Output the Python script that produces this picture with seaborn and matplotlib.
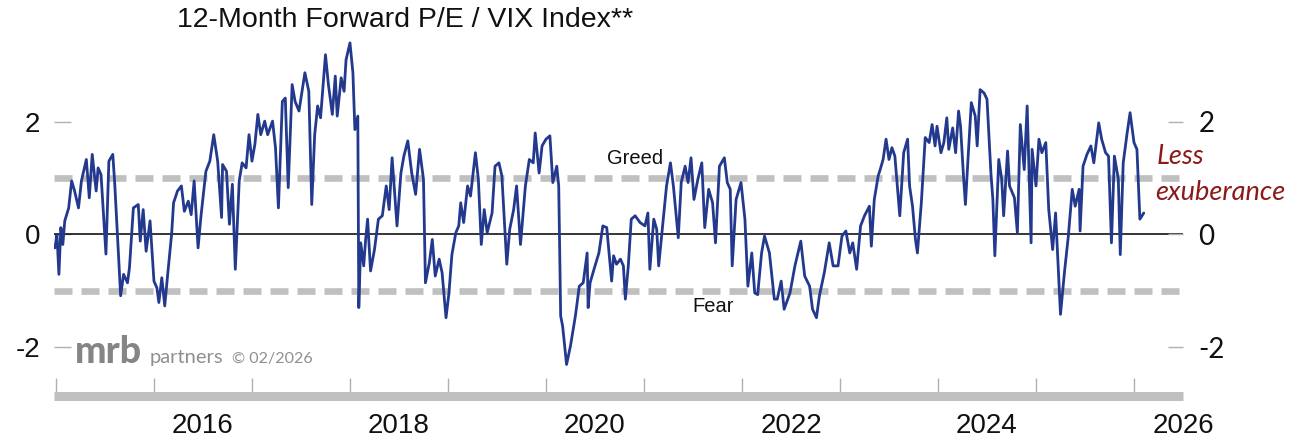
import matplotlib
matplotlib.use("Agg")
import matplotlib.pyplot as plt
import seaborn as sns
import pandas as pd

title = "12-Month Forward P/E / VIX Index**"

dates = [
    2014.99, 2015.01, 2015.03, 2015.05, 2015.07, 2015.09, 2015.13, 2015.16, 2015.19, 2015.23,
    2015.26, 2015.31, 2015.34, 2015.37, 2015.41, 2015.43, 2015.46, 2015.51, 2015.54, 2015.58,
    2015.60, 2015.66, 2015.69, 2015.73, 2015.75, 2015.79, 2015.84, 2015.86, 2015.89, 2015.92,
    2015.96, 2016.00, 2016.03, 2016.05, 2016.08, 2016.11, 2016.14, 2016.18, 2016.20, 2016.24,
    2016.28, 2016.31, 2016.35, 2016.38, 2016.41, 2016.45, 2016.48, 2016.53, 2016.57, 2016.61,
    2016.65, 2016.69, 2016.70, 2016.74, 2016.77, 2016.80, 2016.83, 2016.87, 2016.90, 2016.94,
    2016.97, 2017.00, 2017.03, 2017.06, 2017.09, 2017.13, 2017.16, 2017.21, 2017.24, 2017.27,
    2017.31, 2017.34, 2017.37, 2017.41, 2017.44, 2017.48, 2017.54, 2017.58, 2017.61, 2017.64,
    2017.67, 2017.70, 2017.75, 2017.78, 2017.82, 2017.85, 2017.87, 2017.91, 2017.94, 2017.96,
    2018.00, 2018.03, 2018.05, 2018.08, 2018.09, 2018.11, 2018.14, 2018.16, 2018.18, 2018.21,
    2018.25, 2018.29, 2018.33, 2018.37, 2018.40, 2018.43, 2018.48, 2018.52, 2018.55, 2018.59,
    2018.63, 2018.67, 2018.71, 2018.75, 2018.77, 2018.81, 2018.84, 2018.87, 2018.91, 2018.94,
    2018.98, 2019.01, 2019.04, 2019.08, 2019.11, 2019.13, 2019.16, 2019.20, 2019.23, 2019.28,
    2019.31, 2019.34, 2019.37, 2019.40, 2019.45, 2019.48, 2019.52, 2019.55, 2019.60, 2019.63,
    2019.67, 2019.70, 2019.74, 2019.79, 2019.83, 2019.87, 2019.89, 2019.93, 2019.96, 2020.00,
    2020.04, 2020.07, 2020.11, 2020.13, 2020.15, 2020.17, 2020.21, 2020.25, 2020.30, 2020.34,
    2020.38, 2020.42, 2020.43, 2020.45, 2020.49, 2020.54, 2020.58, 2020.62, 2020.67, 2020.69,
    2020.72, 2020.76, 2020.79, 2020.81, 2020.84, 2020.87, 2020.91, 2020.96, 2021.01, 2021.04,
    2021.06, 2021.10, 2021.13, 2021.15, 2021.19, 2021.23, 2021.27, 2021.30, 2021.35, 2021.38,
    2021.42, 2021.45, 2021.48, 2021.51, 2021.55, 2021.59, 2021.62, 2021.66, 2021.70, 2021.73,
    2021.77, 2021.82, 2021.85, 2021.88, 2021.90, 2021.94, 2021.99, 2022.03, 2022.06, 2022.10,
    2022.13, 2022.16, 2022.20, 2022.23, 2022.28, 2022.33, 2022.36, 2022.40, 2022.43, 2022.49,
    2022.54, 2022.60, 2022.64, 2022.69, 2022.72, 2022.76, 2022.79, 2022.84, 2022.89, 2022.93,
    2022.98, 2023.02, 2023.06, 2023.10, 2023.13, 2023.17, 2023.21, 2023.25, 2023.30, 2023.32,
    2023.35, 2023.39, 2023.41, 2023.44, 2023.47, 2023.50, 2023.53, 2023.56, 2023.61, 2023.65,
    2023.69, 2023.71, 2023.74, 2023.77, 2023.79, 2023.83, 2023.87, 2023.91, 2023.94, 2023.97,
    2023.99, 2024.03, 2024.06, 2024.09, 2024.11, 2024.15, 2024.18, 2024.21, 2024.23, 2024.26,
    2024.28, 2024.30, 2024.34, 2024.38, 2024.40, 2024.43, 2024.47, 2024.50, 2024.54, 2024.56,
    2024.58, 2024.62, 2024.65, 2024.67, 2024.71, 2024.73, 2024.78, 2024.81, 2024.84, 2024.88,
    2024.91, 2024.95, 2024.96, 2025.00, 2025.03, 2025.06, 2025.10, 2025.13, 2025.17, 2025.20,
    2025.25, 2025.29, 2025.33, 2025.37, 2025.40, 2025.44, 2025.45, 2025.48, 2025.52, 2025.56,
    2025.59, 2025.64, 2025.67, 2025.71, 2025.74, 2025.77, 2025.80, 2025.84, 2025.86, 2025.89,
    2025.93, 2025.96, 2026.00, 2026.03, 2026.06, 2026.10,
]

values = [
    -0.24, 0.00, -0.71, 0.12, -0.18, 0.24, 0.47, 0.95, 0.77, 0.47,
    0.95, 1.33, 0.65, 1.42, 0.77, 1.18, 1.06, -0.35, 1.30, 1.42,
    0.89, -1.09, -0.71, -0.86, -0.59, 0.47, 0.53, -0.12, 0.44, -0.30,
    0.24, -0.83, -0.95, -1.21, -0.77, -1.27, -0.71, 0.00, 0.56, 0.77,
    0.86, 0.41, 0.59, 0.35, 0.95, -0.24, 0.33, 1.12, 1.30, 1.77,
    1.30, 0.30, 1.24, 1.12, 0.18, 0.89, -0.62, 0.95, 1.27, 1.18,
    1.77, 1.30, 1.60, 2.13, 1.77, 2.01, 1.77, 2.01, 1.54, 0.47,
    2.36, 2.42, 0.83, 2.66, 2.36, 2.19, 2.87, 2.54, 0.53, 1.77,
    2.28, 2.07, 3.19, 2.66, 2.13, 2.81, 2.10, 2.78, 2.54, 3.10,
    3.40, 2.87, 1.86, 2.10, -1.30, -0.15, -0.56, -0.09, 0.27, -0.65,
    -0.27, 0.27, 0.33, 0.86, 0.44, 1.36, 0.15, 1.09, 1.39, 1.66,
    1.09, 0.71, 1.51, 0.98, -0.86, -0.50, -0.09, -0.74, -0.44, -0.68,
    -1.48, -1.04, -0.36, 0.03, 0.15, 0.56, 0.21, 0.86, 0.68, 1.45,
    0.98, -0.18, 0.44, 0.03, 0.38, 1.21, 1.27, 1.04, -0.53, 0.09,
    0.44, 0.86, -0.18, 0.86, 1.33, 1.27, 1.80, 1.09, 1.57, 1.69,
    1.75, 0.92, 1.21, 0.86, -1.45, -1.63, -2.31, -1.98, -1.45, -0.92,
    -0.86, -0.33, -1.30, -0.86, -0.62, -0.33, 0.15, 0.12, -0.83, -0.38,
    -0.53, -0.44, -0.56, -1.15, -0.56, 0.27, 0.33, 0.21, 0.15, 0.38,
    -0.62, 0.27, 0.09, -0.56, 0.15, 0.86, 1.27, 0.86, -0.06, 0.92,
    1.21, 0.92, 1.36, 0.62, 0.98, 1.27, 0.12, 0.80, 0.56, -0.15,
    1.21, 1.36, 0.92, 0.80, -0.56, 0.62, 0.92, 0.27, -0.92, -0.33,
    -1.04, -1.07, -0.33, -0.03, -0.33, -1.15, -1.15, -0.83, -1.33, -1.04,
    -0.56, -0.12, -0.74, -0.92, -1.33, -1.48, -1.09, -0.68, -0.15, -0.56,
    -0.56, -0.03, 0.06, -0.33, -0.15, -0.62, 0.15, 0.33, 0.50, -0.21,
    0.62, 1.04, 1.15, 1.33, 1.69, 1.33, 1.54, 1.39, 0.33, 1.45,
    1.69, 0.86, 0.50, -0.09, -0.33, 0.56, 1.72, 1.63, 1.95, 1.57,
    1.92, 1.45, 1.63, 2.07, 1.51, 1.89, 1.45, 2.19, 1.92, 1.04,
    0.53, 1.15, 2.34, 2.10, 1.57, 2.57, 2.51, 2.40, 1.09, 0.62,
    -0.38, 1.33, 0.98, 0.33, 1.48, 0.86, 0.65, 0.03, 1.95, 1.15,
    2.28, -0.15, 1.51, 0.86, 1.69, 1.45, 1.63, 0.44, -0.27, 0.38,
    -1.42, -0.68, -0.03, 0.80, 0.50, 0.80, 0.06, 1.21, 1.42, 1.57,
    1.27, 1.98, 1.69, 1.45, 1.39, -0.15, 1.39, 0.98, -0.36, 1.27,
    1.80, 2.16, 1.63, 1.51, 0.27, 0.38,
]

ytick_values = [-2, 0, 2]
year_ticks = list(range(2015, 2027))
year_labels = [2016, 2018, 2020, 2022, 2024, 2026]
greed_level = 1
fear_level = -1
greed_text = "Greed"
fear_text = "Fear"
note_lines = ["Less", "exuberance"]

sns.set_theme(style="white")
plt.rcParams['font.family'] = ['Liberation Sans', 'DejaVu Sans']

W, H = 1303, 445
fig = plt.figure(figsize=(W / 100, H / 100), dpi=100)
ax = fig.add_axes([54 / W, 1 - 396 / H, (1183 - 54) / W, (396 - 35) / H])

df = pd.DataFrame({"date": dates, "value": values})

for lvl in (greed_level, fear_level):
    ax.axhline(lvl, color="#c0c0c0", lw=4.8, dashes=(2.7, 1.35),
               dash_capstyle="butt", zorder=1)
ax.axhline(0, color="black", lw=1.1, zorder=2)

sns.lineplot(data=df, x="date", y="value", ax=ax, color="#22398e",
             lw=2.0, zorder=3)

ax.set_xlim(2014.98, 2026.468)
ax.set_ylim(-2.87, 3.54)
ax.set_xlabel("")
ax.set_ylabel("")

for s in ("left", "right", "top"):
    ax.spines[s].set_visible(False)
ax.spines["bottom"].set_color("#c0c0c0")
ax.spines["bottom"].set_linewidth(6.5)
ax.spines["bottom"].set_capstyle("butt")
ax.spines["bottom"].set_zorder(4)

ax.set_xticks(year_ticks)
ax.set_xticklabels([])
ax.set_xticks([y + 0.5 for y in year_labels], minor=True)
ax.set_xticklabels([str(y) for y in year_labels], minor=True)
ax.tick_params(axis="x", which="major", direction="in", length=13, width=1,
               color="#b0b0b0", bottom=True)
ax.tick_params(axis="x", which="minor", length=0, pad=12, labelsize=20,
               labelcolor="#111111", bottom=True)

ax.set_yticks(ytick_values)
ax.set_yticklabels([str(v) for v in ytick_values])
ax.tick_params(axis="y", direction="in", length=12, width=1, color="#b0b0b0",
               left=True, pad=10, labelsize=20, labelcolor="#111111")

ax2 = ax.twinx()
ax2.set_ylim(ax.get_ylim())
for s in ("left", "right", "top", "bottom"):
    ax2.spines[s].set_visible(False)
ax2.set_yticks(ytick_values)
ax2.set_yticklabels([str(v) for v in ytick_values])
ax2.tick_params(axis="y", direction="in", length=11, width=1, color="#b0b0b0",
                right=True, pad=11, labelsize=20, labelcolor="#111111")
for lbl in ax2.get_yticklabels():
    lbl.set_family(["Lato", "DejaVu Sans"])
ax2.grid(False)
ax.grid(False)

fig.text(405 / W, 1 - 20 / H, title, ha="center", va="center", fontsize=20.5,
         color="#111111")

ax.annotate(greed_text, xy=(635, H - 159), xycoords="figure pixels",
            ha="center", va="center", fontsize=14.5, color="#111111")
ax.annotate(fear_text, xy=(713, H - 307), xycoords="figure pixels",
            ha="center", va="center", fontsize=14.5, color="#111111")

fig.text(1157 / W, 1 - 157 / H, note_lines[0], ha="left", va="center",
         fontsize=19.5, style="italic", color="#8b1a1a", family=["Lato", "DejaVu Sans"])
fig.text(1155 / W, 1 - 193 / H, note_lines[1], ha="left", va="center",
         fontsize=19.5, style="italic", color="#8b1a1a", family=["Lato", "DejaVu Sans"])

# watermark
fig.text(75 / W, 1 - 363 / H, "mrb", ha="left", va="baseline", fontsize=27,
         weight="black", color="#858585", family=["Lato", "DejaVu Sans"])
fig.text(150 / W, 1 - 363 / H, "partners", ha="left", va="baseline", fontsize=14.5,
         color="#8f8f8f", family=["Lato", "DejaVu Sans"])
fig.text(232 / W, 1 - 363 / H, "\u00a9 02/2026", ha="left", va="baseline",
         fontsize=11.5, color="#8f8f8f", family=["Lato", "DejaVu Sans"])

fig.savefig("out.png", dpi=100)
